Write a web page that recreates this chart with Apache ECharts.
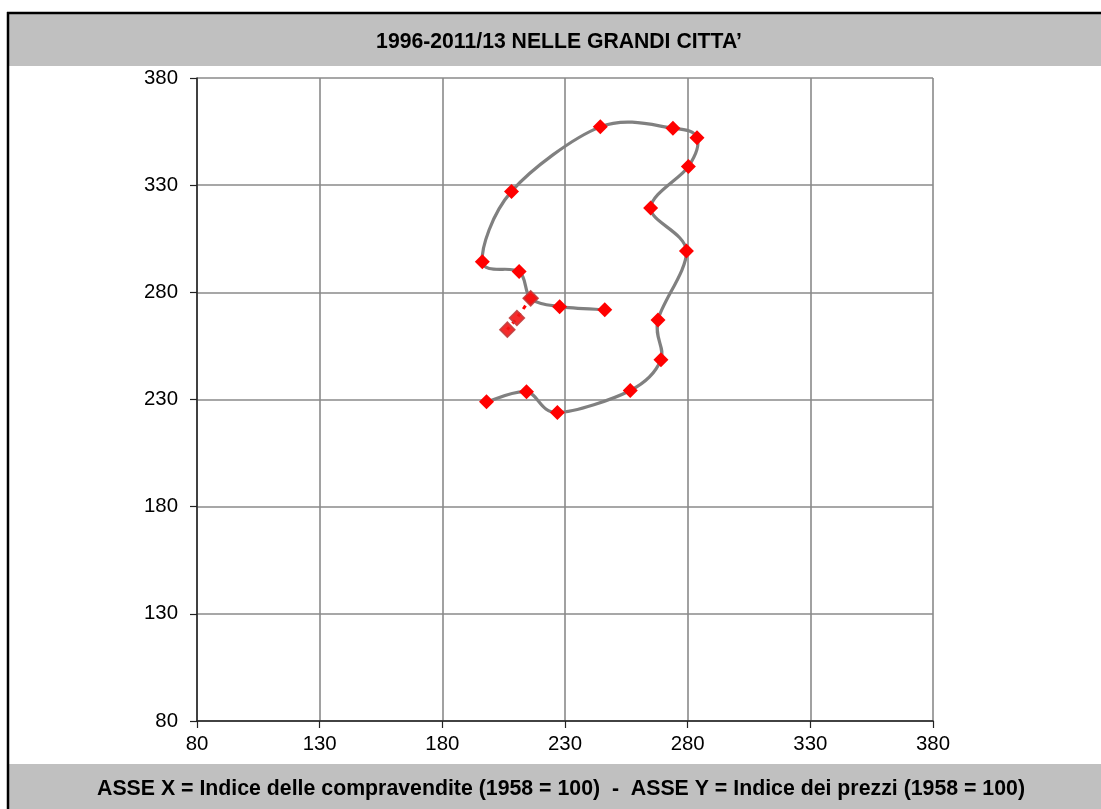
<!DOCTYPE html>
<html>
<head>
<meta charset="utf-8">
<script src="https://cdn.jsdelivr.net/npm/echarts@6/dist/echarts.min.js"></script>
<style>
html,body{margin:0;padding:0;background:#fff;}
#chart{width:1101px;height:809px;}
</style>
</head>
<body>
<div id="chart"></div>
<script>
// Data (path order)
const compravendite = [198.0, 214.3, 226.9, 256.6, 269.1, 267.9, 279.5, 264.9, 280.3, 283.8, 274.0, 244.4, 208.2, 196.3, 211.3, 216.0, 227.8, 246.2];
const prezzi        = [228.9, 233.6, 223.9, 234.2, 248.6, 267.1, 299.3, 319.4, 338.7, 352.1, 356.6, 357.2, 327.1, 294.3, 289.7, 277.2, 273.3, 271.9];
// Dashed (estimate) segment
const compravenditeStima = [216.0, 210.4, 206.5];
const prezziStima        = [277.2, 268.0, 262.6];
const axisTicks = [80, 130, 180, 230, 280, 330, 380];
const titleText = "1996-2011/13 NELLE GRANDI CITTA\u2019";
const footerText = "ASSE X = Indice delle compravendite (1958 = 100)  -  ASSE Y = Indice dei prezzi (1958 = 100)";

const mainData = compravendite.map((x, i) => [x, prezzi[i]]);
const stimaData = compravenditeStima.map((x, i) => [x, prezziStima[i]]);
const n = mainData.length;

const chart = echarts.init(document.getElementById('chart'), null, {renderer: 'canvas'});
const font = '"Liberation Sans", Arial, sans-serif';

const axisCommon = {
  type: 'value',
  min: axisTicks[0],
  max: axisTicks[axisTicks.length - 1],
  interval: axisTicks[1] - axisTicks[0],
  axisLine: {show: true, onZero: false, lineStyle: {color: '#222', width: 1.5}},
  axisTick: {show: true, inside: false, length: 7, lineStyle: {color: '#222', width: 1.2}},
  splitLine: {show: true, lineStyle: {color: '#8a8a8a', width: 1.6}},
  axisLabel: {color: '#000', fontFamily: font, fontSize: 20.4}
};

// Smooth (Catmull-Rom style, like the spreadsheet's smoothed line) segment i -> i+1
function renderSegment(params, api) {
  const i = params.dataIndex;
  if (i >= n - 1) return null;
  const p = (k) => {
    const kk = Math.max(0, Math.min(n - 1, k));
    return api.coord(mainData[kk]);
  };
  const P0 = p(i - 1), P1 = p(i), P2 = p(i + 1), P3 = p(i + 2);
  const t = 1 / 6;
  return {
    type: 'bezierCurve',
    shape: {
      x1: P1[0], y1: P1[1],
      x2: P2[0], y2: P2[1],
      cpx1: P1[0] + (P2[0] - P0[0]) * t,
      cpy1: P1[1] + (P2[1] - P0[1]) * t,
      cpx2: P2[0] - (P3[0] - P1[0]) * t,
      cpy2: P2[1] - (P3[1] - P1[1]) * t
    },
    style: {stroke: '#808080', lineWidth: 3.2, fill: null, lineCap: 'round'}
  };
}

chart.setOption({
  animation: false,
  backgroundColor: '#fff',
  grid: {left: 197, top: 78, width: 736, height: 643, containLabel: false},
  xAxis: Object.assign({}, axisCommon, {axisLabel: Object.assign({}, axisCommon.axisLabel, {margin: 13})}),
  yAxis: Object.assign({}, axisCommon, {axisLabel: Object.assign({}, axisCommon.axisLabel, {margin: 19})}),
  graphic: [
    {type: 'rect', z: -10, shape: {x: 8, y: 13, width: 1093, height: 53}, style: {fill: '#c0c0c0'}},
    {type: 'rect', z: -10, shape: {x: 8, y: 764, width: 1093, height: 45}, style: {fill: '#c0c0c0'}},
    {type: 'line', z: 10, shape: {x1: 7, y1: 13, x2: 1101, y2: 13}, style: {stroke: '#000', lineWidth: 2.5}},
    {type: 'line', z: 10, shape: {x1: 8, y1: 12, x2: 8, y2: 809}, style: {stroke: '#000', lineWidth: 2.5}},
    {type: 'text', z: 10, style: {x: 559, y: 42, text: titleText, align: 'center', verticalAlign: 'middle',
      font: 'bold 21.2px "Liberation Sans", Arial, sans-serif', fill: '#000'}},
    {type: 'text', z: 10, style: {x: 561, y: 789, text: footerText, align: 'center', verticalAlign: 'middle',
      font: 'bold 21.3px "Liberation Sans", Arial, sans-serif', fill: '#000'}}
  ],
  series: [
    {
      type: 'custom',
      data: mainData,
      renderItem: renderSegment,
      encode: {x: 0, y: 1},
      z: 2,
      silent: true
    },
    {
      type: 'scatter',
      data: mainData,
      symbol: 'diamond',
      symbolSize: 15,
      itemStyle: {color: '#ff0000', opacity: 1},
      z: 3
    },
    {
      type: 'line',
      data: stimaData,
      smooth: false,
      symbol: 'diamond',
      symbolSize: 15,
      itemStyle: {color: '#f41414', borderColor: '#c04040', borderWidth: 1.5, opacity: 0.9},
      lineStyle: {color: '#ff0000', width: 3, type: [4, 5]},
      z: 4
    }
  ]
});
</script>
</body>
</html>
